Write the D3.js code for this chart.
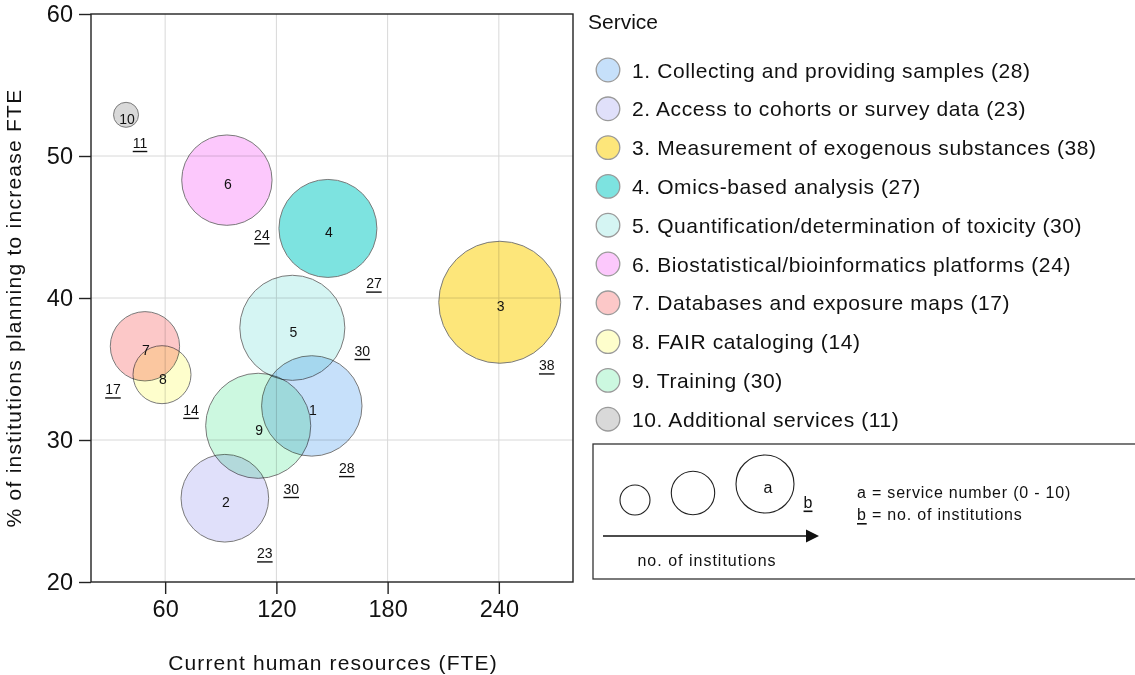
<!DOCTYPE html>
<html>
<head>
<meta charset="utf-8">
<script src="https://cdn.jsdelivr.net/npm/d3@7"></script>
<style>
  html, body { margin: 0; padding: 0; background: #fff; }
  svg { display: block; font-family: "Liberation Sans", Arial, sans-serif; }
</style>
</head>
<body>
<svg id="chart" width="1135" height="675"></svg>
<script>
// Services offered and their survey figures
const services = [
  "Collecting and providing samples",
  "Access to cohorts or survey data",
  "Measurement of exogenous substances",
  "Omics-based analysis",
  "Quantification/determination of toxicity",
  "Biostatistical/bioinformatics platforms",
  "Databases and exposure maps",
  "FAIR cataloging",
  "Training",
  "Additional services"
];
const currentFTE   = [139.1, 92.2, 240.5, 147.8, 128.6, 93.3, 49.1, 58.3, 110.2, 38.9];
const pctIncrease  = [32.4, 25.9, 39.7, 44.9, 37.9, 48.3, 36.6, 34.6, 31.0, 52.9];
const institutions = [28, 23, 38, 27, 30, 24, 17, 14, 30, 11];
const xTicks = [60, 120, 180, 240];
const yTicks = [20, 30, 40, 50, 60];

// Palette and placement of the underlined institution counts (pixel offsets from bubble centre)
const palette = ["#c6e0fa", "#e0e0fa", "#fde67a", "#7de3e0", "#d5f5f3",
                 "#fcc8fc", "#fcc8c8", "#fefecc", "#ccf8e0", "#d9d9d9"];
const countOffset = [[35, 62], [40, 55], [47, 63], [46, 55], [70, 23],
                     [35, 55], [-32, 43], [29, 35], [33, 63], [14, 28]];

const svg = d3.select("#chart");
const plot = { left: 91, right: 573, top: 14, bottom: 582 };

const x = d3.scaleLinear().domain([20, 280]).range([plot.left, plot.right]);
const y = d3.scaleLinear().domain([20, 60]).range([plot.bottom, plot.top]);
const r = d3.scaleRadial().domain([11, 14, 38]).range([12.5, 29, 61]);

const data = services.map((name, i) => ({
  id: i + 1, name, fte: currentFTE[i], pct: pctIncrease[i], n: institutions[i],
  color: palette[i], off: countOffset[i]
}));

// Grid lines
const grid = svg.append("g").attr("stroke", "#d8d8d8").attr("stroke-width", 1);
grid.selectAll("line.v").data(xTicks).join("line")
  .attr("x1", d => x(d)).attr("x2", d => x(d))
  .attr("y1", plot.top).attr("y2", plot.bottom);
grid.selectAll("line.h").data(yTicks.slice(1, -1)).join("line")
  .attr("y1", d => y(d)).attr("y2", d => y(d))
  .attr("x1", plot.left).attr("x2", plot.right);

// Bubbles
const bubbles = svg.append("g");
bubbles.selectAll("circle").data(data).join("circle")
  .attr("cx", d => x(d.fte)).attr("cy", d => y(d.pct)).attr("r", d => r(d.n))
  .attr("fill", d => d.color)
  .attr("stroke", "#7a7a7a").attr("stroke-width", 1)
  .style("mix-blend-mode", "multiply");

// Frame
svg.append("rect")
  .attr("x", plot.left).attr("y", plot.top)
  .attr("width", plot.right - plot.left).attr("height", plot.bottom - plot.top)
  .attr("fill", "none").attr("stroke", "#222").attr("stroke-width", 1.4);

// Axes
const xAxis = svg.append("g").attr("transform", `translate(0,${plot.bottom})`)
  .call(d3.axisBottom(x).tickValues(xTicks).tickSize(12).tickPadding(6));
const yAxis = svg.append("g").attr("transform", `translate(${plot.left},0)`)
  .call(d3.axisLeft(y).tickValues(yTicks).tickSize(12).tickPadding(6));
[xAxis, yAxis].forEach(a => {
  a.select(".domain").remove();
  a.selectAll(".tick line").attr("stroke", "#222").attr("stroke-width", 1.4);
  a.selectAll(".tick text").attr("fill", "#111")
    .style("font-family", '"Liberation Sans", Arial, sans-serif').style("font-size", "23.5px");
});

// Axis titles
svg.append("text")
  .attr("x", (plot.left + plot.right) / 2 + 1).attr("y", 670)
  .attr("text-anchor", "middle").attr("font-size", 21).attr("letter-spacing", 1.1).attr("fill", "#111")
  .text("Current human resources (FTE)");
svg.append("text")
  .attr("transform", `translate(21,${(plot.top + plot.bottom) / 2 + 10}) rotate(-90)`)
  .attr("text-anchor", "middle").attr("font-size", 21).attr("letter-spacing", 1.25).attr("fill", "#111")
  .text("% of institutions planning to increase FTE");

// Service numbers inside bubbles
svg.append("g").selectAll("text").data(data).join("text")
  .attr("x", d => x(d.fte) + 1).attr("y", d => y(d.pct) + 4)
  .attr("text-anchor", "middle").attr("dominant-baseline", "central")
  .attr("font-size", 14).attr("fill", "#111")
  .text(d => d.id);

// Underlined institution counts
svg.append("g").selectAll("text").data(data).join("text")
  .attr("x", d => x(d.fte) + d.off[0]).attr("y", d => y(d.pct) + d.off[1])
  .attr("text-anchor", "middle").attr("dominant-baseline", "central")
  .attr("font-size", 14).attr("fill", "#111")
  .style("text-decoration", "underline")
  .text(d => d.n);

// Service legend
const legend = svg.append("g");
legend.append("text").attr("x", 588).attr("y", 29)
  .attr("font-size", 21).attr("fill", "#111").text("Service");
const rows = legend.selectAll("g.row").data(data).join("g")
  .attr("transform", (d, i) => `translate(0,${70 + i * 38.8})`);
rows.append("circle").attr("cx", 608).attr("cy", 0).attr("r", 11.8)
  .attr("fill", d => d.color).attr("stroke", "#9a9a9a").attr("stroke-width", 1.3);
rows.append("text").attr("x", 632).attr("y", 0)
  .attr("dominant-baseline", "central")
  .attr("font-size", 21).attr("letter-spacing", 0.6).attr("fill", "#111")
  .text(d => `${d.id}. ${d.name} (${d.n})`);

// Size key
const key = svg.append("g");
key.append("rect").attr("x", 593).attr("y", 444).attr("width", 600).attr("height", 135)
  .attr("fill", "none").attr("stroke", "#333").attr("stroke-width", 1.3);
const keyCircles = [[635, 500, 15], [693, 493, 21.7], [765, 484, 29]];
key.selectAll("circle").data(keyCircles).join("circle")
  .attr("cx", d => d[0]).attr("cy", d => d[1]).attr("r", d => d[2])
  .attr("fill", "none").attr("stroke", "#222").attr("stroke-width", 1.1);
key.append("text").attr("x", 768).attr("y", 487).attr("text-anchor", "middle")
  .attr("dominant-baseline", "central").attr("font-size", 16).attr("fill", "#111").text("a");
key.append("text").attr("x", 808).attr("y", 502).attr("text-anchor", "middle")
  .attr("dominant-baseline", "central").attr("font-size", 16).attr("fill", "#111")
  .style("text-decoration", "underline").text("b");
key.append("line").attr("x1", 603).attr("x2", 808).attr("y1", 536).attr("y2", 536)
  .attr("stroke", "#111").attr("stroke-width", 1.3);
key.append("path").attr("d", "M806,529.5 L819,536 L806,542.5 Z").attr("fill", "#111");
key.append("text").attr("x", 707).attr("y", 560).attr("text-anchor", "middle")
  .attr("dominant-baseline", "central").attr("font-size", 16).attr("letter-spacing", 1).attr("fill", "#111")
  .text("no. of institutions");
const t1 = key.append("text").attr("x", 857).attr("y", 492)
  .attr("dominant-baseline", "central").attr("font-size", 16).attr("letter-spacing", 0.8).attr("fill", "#111");
t1.text("a = service number (0 - 10)");
const t2 = key.append("text").attr("x", 857).attr("y", 514)
  .attr("dominant-baseline", "central").attr("font-size", 16).attr("letter-spacing", 0.8).attr("fill", "#111");
t2.append("tspan").style("text-decoration", "underline").text("b");
t2.append("tspan").text(" = no. of institutions");
</script>
</body>
</html>
